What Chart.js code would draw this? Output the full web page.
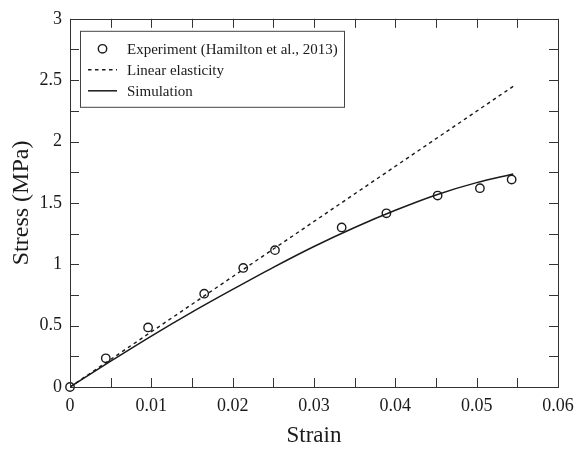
<!DOCTYPE html>
<html>
<head>
<meta charset="utf-8">
<script src="https://cdn.jsdelivr.net/npm/chart.js@4.4.1/dist/chart.umd.min.js"></script>
<style>
  html, body { margin: 0; background: #fff; }
  #wrap { width: 583px; height: 450px; }
</style>
</head>
<body>
<div id="wrap"><canvas id="stressChart"></canvas></div>
<script>
// experiment (Hamilton et al., 2013)
const expStrain = [0, 0.0044, 0.0096, 0.0165, 0.0213, 0.0252, 0.0334, 0.0389, 0.0452, 0.0504, 0.0543];
const expStress = [0, 0.234, 0.485, 0.76, 0.97, 1.115, 1.30, 1.415, 1.56, 1.62, 1.69];

// linear elasticity
const linStrain = [0, 0.0545];
const linStress = [0, 2.45];

// simulation
const simStrain = [0, 0.005, 0.01, 0.015, 0.02, 0.025, 0.03, 0.035, 0.04, 0.045, 0.05, 0.0545];
const simStress = [0, 0.21, 0.415, 0.61, 0.795, 0.975, 1.145, 1.30, 1.44, 1.565, 1.665, 1.735];

const xTicks = [0, 0.01, 0.02, 0.03, 0.04, 0.05, 0.06];
const yTicks = [0, 0.5, 1, 1.5, 2, 2.5, 3];
const xMinorTicks = [0.005, 0.015, 0.025, 0.035, 0.045, 0.055];
const yMinorTicks = [0.25, 0.75, 1.25, 1.75, 2.25, 2.75];

const serif = '"Liberation Serif", "Times New Roman", serif';
const ink = '#1a1a1a';

const toPoints = (xs, ys) => xs.map((v, i) => ({ x: v, y: ys[i] }));

// box around the plot with inward ticks on all sides
const frameTicks = {
  id: 'frameTicks',
  afterDatasetsDraw(chart) {
    const { ctx, chartArea: a, scales: { x, y } } = chart;
    const len = 9;
    ctx.save();
    ctx.strokeStyle = '#333';
    ctx.lineWidth = 1;
    ctx.beginPath();
    xTicks.concat(xMinorTicks).forEach(v => {
      const px = Math.round(x.getPixelForValue(v)) + 0.5;
      ctx.moveTo(px, a.bottom); ctx.lineTo(px, a.bottom - len);
      ctx.moveTo(px, a.top); ctx.lineTo(px, a.top + len);
    });
    yTicks.concat(yMinorTicks).forEach(v => {
      const py = Math.round(y.getPixelForValue(v)) + 0.5;
      ctx.moveTo(a.left, py); ctx.lineTo(a.left + len, py);
      ctx.moveTo(a.right, py); ctx.lineTo(a.right - len, py);
    });
    ctx.stroke();
    ctx.strokeRect(Math.round(a.left) + 0.5, Math.round(a.top) + 0.5,
                   Math.round(a.width), Math.round(a.height));
    ctx.restore();
  }
};

// legend box inside the plot, top left
const boxLegend = {
  id: 'boxLegend',
  afterDraw(chart) {
    const { ctx, chartArea: a } = chart;
    const left = a.left + 10, top = a.top + 12, w = 264, h = 76;
    ctx.save();
    ctx.fillStyle = '#fff';
    ctx.fillRect(left, top, w, h);
    ctx.strokeStyle = '#444';
    ctx.lineWidth = 1;
    ctx.strokeRect(left + 0.5, top + 0.5, w, h);
    ctx.font = '15px ' + serif;
    ctx.textBaseline = 'middle';
    chart.data.datasets.forEach((ds, i) => {
      const yy = top + 18 + i * 21;
      const x0 = left + 8, x1 = left + 37;
      ctx.strokeStyle = ink;
      if (ds.showLine) {
        ctx.lineWidth = ds.borderWidth;
        ctx.setLineDash(ds.borderDash || []);
        ctx.beginPath();
        ctx.moveTo(x0, yy); ctx.lineTo(x1, yy);
        ctx.stroke();
        ctx.setLineDash([]);
      } else {
        ctx.lineWidth = ds.borderWidth;
        ctx.beginPath();
        ctx.arc((x0 + x1) / 2, yy, ds.pointRadius, 0, Math.PI * 2);
        ctx.stroke();
      }
      ctx.fillStyle = ink;
      ctx.fillText(ds.label, left + 47, yy + 1);
    });
    ctx.restore();
  }
};

new Chart(document.getElementById('stressChart'), {
  type: 'scatter',
  data: {
    datasets: [{
      label: 'Experiment (Hamilton et al., 2013)',
      data: toPoints(expStrain, expStress),
      showLine: false,
      pointRadius: 4.2,
      pointHoverRadius: 4.2,
      borderWidth: 1.4,
      borderColor: ink,
      backgroundColor: 'rgba(0,0,0,0)',
      clip: false,
      order: 0
    }, {
      label: 'Linear elasticity',
      data: toPoints(linStrain, linStress),
      showLine: true,
      borderDash: [3.5, 3.5],
      borderWidth: 1.4,
      borderColor: ink,
      pointRadius: 0,
      order: 2
    }, {
      label: 'Simulation',
      data: toPoints(simStrain, simStress),
      showLine: true,
      borderWidth: 1.5,
      borderColor: ink,
      pointRadius: 0,
      cubicInterpolationMode: 'monotone',
      order: 1
    }]
  },
  options: {
    responsive: true,
    maintainAspectRatio: false,
    animation: false,
    layout: { padding: { top: 16, right: 25, left: 0, bottom: 0 } },
    plugins: {
      legend: { display: false },
      tooltip: { enabled: false }
    },
    scales: {
      x: {
        type: 'linear',
        min: 0, max: 0.06,
        afterBuildTicks: s => { s.ticks = xTicks.map(v => ({ value: v })); },
        afterFit: s => { s.height = 63; },
        grid: { display: false, drawTicks: false },
        border: { display: false },
        ticks: {
          padding: 8,
          color: ink,
          font: { family: serif, size: 18 },
          callback: v => String(+v.toFixed(3))
        },
        title: {
          display: true,
          text: 'Strain',
          color: ink,
          font: { family: serif, size: 23 },
          padding: { top: 0, bottom: 0 }
        }
      },
      y: {
        type: 'linear',
        min: 0, max: 3,
        afterBuildTicks: s => { s.ticks = yTicks.map(v => ({ value: v })); },
        afterFit: s => { s.width = 70; },
        grid: { display: false, drawTicks: false },
        border: { display: false },
        ticks: {
          padding: 8,
          color: ink,
          font: { family: serif, size: 18 },
          callback: v => String(+v.toFixed(2))
        },
        title: {
          display: true,
          text: 'Stress (MPa)',
          color: ink,
          font: { family: serif, size: 24 },
          padding: { top: 7, bottom: 0 }
        }
      }
    }
  },
  plugins: [frameTicks, boxLegend]
});
</script>
</body>
</html>
